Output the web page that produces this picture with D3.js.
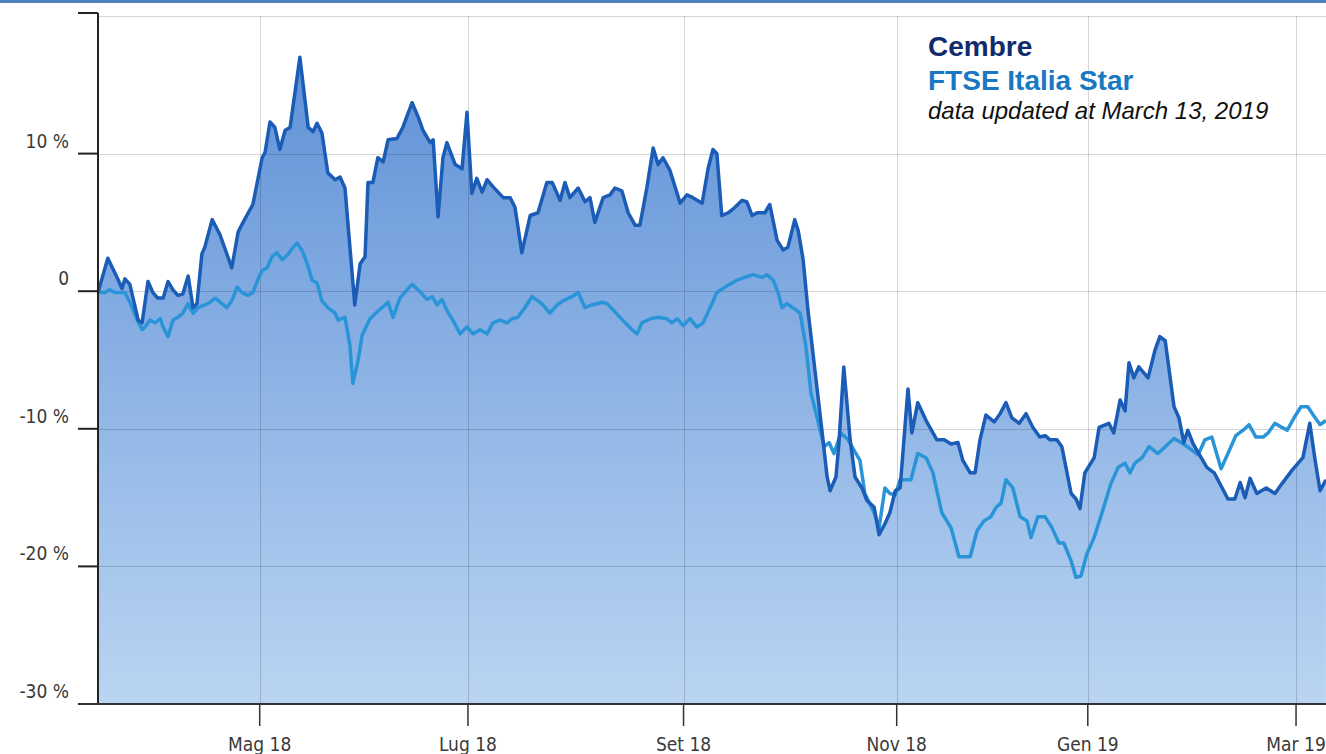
<!DOCTYPE html>
<html>
<head>
<meta charset="utf-8">
<script src="https://cdn.jsdelivr.net/npm/d3@7"></script>
<style>
  html, body { margin: 0; padding: 0; background: #fff; }
  svg { display: block; }
  .tick-label { font-family: "DejaVu Sans Condensed", "DejaVu Sans", sans-serif; font-stretch: condensed; font-size: 19px; fill: #3a3a3a; }
</style>
</head>
<body>
<svg id="chart" width="1326" height="754"></svg>
<script>
// ---- data (trading day since start, % change) ----
const cembre = [[0,-0.1],[2.0,2.4],[3.9,1.0],[4.9,0.2],[5.5,0.9],[6.5,0.5],[8.2,-2.1],[9.0,-2.3],[10.2,0.7],[11.2,-0.1],[12.2,-0.5],[13.3,-0.5],[14.3,0.7],[15.3,0.1],[16.3,-0.3],[17.3,-0.2],[18.4,1.1],[19.4,-1.2],[20.2,-0.9],[21.2,2.7],[21.8,3.2],[23.3,5.2],[24.9,4.1],[27.3,1.7],[28.6,4.3],[29.6,5.0],[31.6,6.3],[33.5,9.7],[34.1,10.1],[35.1,12.3],[36.1,11.9],[37.1,10.3],[38.2,11.7],[39.2,11.9],[41.2,17.0],[42.9,11.9],[43.9,11.6],[44.7,12.2],[45.7,11.5],[46.9,8.6],[48.4,8.1],[49.4,8.3],[50.4,7.5],[52.4,-1.0],[53.5,2.0],[54.5,2.5],[55.1,7.9],[56.1,7.9],[57.1,9.7],[58.2,9.4],[59.2,11.0],[61.0,11.1],[62.2,11.9],[64.1,13.7],[65.3,12.7],[66.3,11.7],[67.8,10.8],[68.4,11.0],[69.4,5.4],[70.4,9.7],[71.2,10.8],[72.9,9.2],[74.3,8.9],[75.3,13.0],[76.3,7.1],[77.3,8.2],[78.4,7.2],[79.4,8.1],[80.6,7.6],[82.7,6.8],[84.1,6.8],[85.1,6.1],[86.5,2.8],[88.2,5.5],[89.8,5.7],[91.6,7.9],[92.7,7.9],[94.3,6.6],[95.3,7.9],[96.3,6.8],[98.0,7.5],[99.4,6.5],[100.4,6.8],[101.4,5.0],[103.1,6.8],[104.5,7.0],[105.5,7.5],[106.9,7.3],[108.2,5.7],[109.6,4.8],[110.6,4.8],[112.0,7.5],[113.3,10.4],[114.3,9.2],[115.3,9.7],[116.7,8.8],[118.8,6.4],[120.2,7.0],[121.4,6.8],[123.3,6.4],[124.5,8.9],[125.5,10.3],[126.3,10.0],[127.3,5.5],[128.6,5.7],[130.0,6.1],[131.4,6.6],[132.4,6.5],[133.5,5.5],[134.5,5.7],[136.1,5.7],[137.1,6.3],[138.6,3.7],[139.8,3.0],[140.8,3.2],[142.2,5.2],[142.9,4.4],[143.9,2.3],[144.9,-1.4],[146.3,-5.7],[147.8,-10.3],[148.8,-13.5],[149.4,-14.5],[150.6,-13.5],[151.2,-11.1],[152.2,-5.5],[153.5,-10.8],[154.5,-13.5],[155.9,-14.3],[156.9,-15.2],[158.4,-15.7],[159.4,-17.7],[160.6,-16.9],[161.6,-16.1],[162.7,-14.5],[163.7,-14.3],[165.3,-7.1],[166.1,-10.3],[167.3,-8.1],[169.0,-9.4],[171.2,-10.8],[172.7,-10.8],[174.1,-11.1],[175.5,-11.0],[176.5,-12.3],[178.0,-13.2],[179.0,-13.2],[180.0,-10.8],[181.2,-9.0],[182.9,-9.5],[184.1,-8.9],[185.3,-8.1],[186.5,-9.2],[188.0,-9.6],[189.4,-8.9],[190.8,-9.9],[192.2,-10.6],[193.3,-10.5],[194.3,-10.8],[195.7,-10.8],[196.7,-11.3],[198.6,-14.7],[199.6,-15.1],[200.4,-15.8],[201.4,-13.2],[203.3,-12.1],[204.3,-9.9],[206.3,-9.6],[207.3,-10.3],[208.6,-7.9],[209.6,-8.7],[210.4,-5.2],[211.4,-6.3],[212.4,-5.5],[214.3,-6.3],[215.7,-4.3],[216.7,-3.3],[217.8,-3.6],[219.6,-8.4],[220.6,-9.2],[221.6,-11.0],[222.4,-10.1],[223.5,-11.1],[226.3,-12.8],[227.8,-13.2],[230.6,-15.1],[232.0,-15.1],[233.1,-13.9],[234.1,-15.0],[235.1,-13.6],[236.5,-14.7],[238.4,-14.3],[240.2,-14.7],[241.6,-14.0],[243.7,-13.0],[245.9,-12.1],[247.3,-9.6],[248.4,-12.3],[249.4,-14.5],[250.6,-13.7]];

const ftse = [[0,-0.1],[1.4,-0.1],[2.4,0.1],[3.5,-0.1],[4.5,-0.1],[5.5,-0.1],[6.5,-0.8],[8.0,-2.1],[9.0,-2.8],[9.6,-2.6],[10.6,-2.1],[11.6,-2.3],[12.7,-2.0],[13.3,-2.6],[14.3,-3.3],[15.3,-2.1],[16.3,-1.9],[17.3,-1.6],[18.4,-0.9],[19.4,-1.6],[20.4,-1.2],[21.8,-1.0],[22.9,-0.8],[23.9,-0.5],[24.9,-0.8],[26.3,-1.2],[27.3,-0.7],[28.4,0.3],[29.4,-0.1],[30.6,-0.3],[31.6,-0.1],[32.7,0.9],[33.5,1.5],[34.5,1.7],[35.5,2.5],[36.5,2.8],[37.6,2.3],[38.6,2.6],[39.6,3.1],[40.6,3.5],[41.6,3.0],[42.7,2.0],[43.7,0.8],[44.7,0.6],[45.7,-0.7],[46.9,-1.2],[48.4,-1.6],[49.0,-2.1],[50.4,-1.9],[51.4,-3.9],[52.0,-6.7],[53.1,-5.0],[53.9,-3.2],[55.5,-2.0],[57.6,-1.3],[59.2,-0.8],[60.2,-1.9],[61.6,-0.5],[64.1,0.5],[65.9,-0.1],[67.1,-0.6],[68.2,-0.4],[69.2,-1.0],[70.2,-0.6],[71.2,-1.4],[72.4,-2.1],[73.9,-3.1],[75.3,-2.6],[76.5,-3.1],[78.0,-2.8],[79.4,-3.1],[80.6,-2.3],[82.0,-2.1],[83.5,-2.3],[84.5,-2.0],[85.7,-1.9],[87.1,-1.2],[88.6,-0.4],[89.8,-0.7],[90.8,-1.0],[92.2,-1.6],[93.7,-1.0],[94.9,-0.7],[96.7,-0.4],[98.0,-0.1],[99.4,-1.2],[100.8,-1.0],[102.9,-0.8],[103.9,-0.9],[105.5,-1.5],[107.6,-2.3],[109.0,-2.8],[110.0,-3.1],[111.0,-2.3],[112.7,-2.0],[114.3,-1.9],[116.1,-2.0],[117.1,-2.3],[118.2,-2.0],[119.4,-2.5],[120.8,-2.0],[122.2,-2.6],[123.5,-2.3],[124.9,-1.2],[126.3,-0.1],[128.4,0.4],[130.4,0.8],[132.0,1.0],[133.7,1.2],[135.5,1.0],[136.5,1.2],[137.8,0.8],[138.8,-0.1],[139.6,-1.2],[140.6,-0.9],[141.8,-1.2],[143.3,-1.6],[144.5,-4.1],[145.5,-7.4],[146.9,-9.4],[148.2,-11.3],[149.2,-11.0],[150.2,-11.8],[151.6,-10.3],[153.1,-10.8],[154.5,-11.7],[155.5,-12.3],[156.5,-14.7],[158.4,-16.1],[159.4,-17.2],[160.6,-14.3],[161.6,-14.7],[162.7,-14.8],[163.7,-13.7],[165.9,-13.7],[167.3,-11.8],[169.0,-12.1],[170.4,-13.2],[172.2,-16.1],[174.1,-17.2],[175.7,-19.3],[178.0,-19.3],[179.4,-17.4],[180.8,-16.7],[182.2,-16.4],[183.3,-15.7],[184.3,-15.4],[185.3,-13.7],[186.7,-14.3],[188.2,-16.4],[189.6,-16.7],[190.4,-17.9],[191.8,-16.4],[193.3,-16.4],[194.7,-17.2],[196.1,-18.3],[197.1,-18.3],[198.6,-19.6],[199.6,-20.8],[200.6,-20.7],[201.8,-19.1],[203.3,-17.9],[204.9,-16.1],[206.7,-14.0],[208.2,-12.8],[209.6,-12.5],[210.6,-13.2],[211.6,-12.5],[213.1,-12.1],[214.5,-11.3],[216.3,-11.8],[217.8,-11.3],[219.6,-10.7],[221.0,-11.0],[222.7,-11.4],[224.5,-11.9],[225.9,-10.8],[227.3,-10.6],[229.2,-12.9],[230.6,-11.8],[232.2,-10.5],[233.7,-10.1],[234.9,-9.7],[236.3,-10.6],[237.8,-10.6],[238.8,-10.3],[240.2,-9.6],[241.6,-9.9],[242.7,-10.1],[244.1,-9.2],[245.5,-8.4],[246.9,-8.4],[248.0,-9.0],[249.4,-9.7],[250.6,-9.4]];

// month ticks (trading day index where the month starts)
const monthTicks = [33, 75.5, 119.5, 163, 202, 244.5];
const monthLabels = ["Mag 18", "Lug 18", "Set 18", "Nov 18", "Gen 19", "Mar 19"];
const pctTicks = [20, 10, 0, -10, -20, -30];
const pctLabels = ["", "10 %", "0", "-10 %", "-20 %", "-30 %"];

const legendNames = ["Cembre", "FTSE Italia Star"];
const legendNote = "data updated at March 13, 2019";

// ---- layout ----
const width = 1326;
const height = 754;
const plotLeft = 98;
const plotTop = 16;
const plotBottom = 704;

const x = d3.scaleLinear().domain([0, 250]).range([plotLeft, 1323]);
const y = d3.scaleLinear().domain([-30, 20]).range([plotBottom, plotTop]);

const svg = d3.select("#chart");

// gradient for the Cembre area
const defs = svg.append("defs");
const grad = defs.append("linearGradient")
  .attr("id", "fillGrad")
  .attr("gradientUnits", "userSpaceOnUse")
  .attr("x1", 0).attr("x2", 0)
  .attr("y1", plotTop).attr("y2", plotBottom);
grad.append("stop").attr("offset", "0%").attr("stop-color", "#5a8dd6");
grad.append("stop").attr("offset", "100%").attr("stop-color", "#bad5f2");

// top blue border
svg.append("rect")
  .attr("x", 0).attr("y", 0)
  .attr("width", width).attr("height", 3)
  .attr("fill", "#4f81bd");

// area under Cembre
const area = d3.area()
  .x(d => x(d[0]))
  .y0(y(-30))
  .y1(d => y(d[1]));

svg.append("path")
  .datum(cembre)
  .attr("d", area)
  .attr("fill", "url(#fillGrad)");

// gridlines (drawn over the fill, semi transparent)
const grid = svg.append("g")
  .attr("stroke", "#000")
  .attr("stroke-opacity", 0.16)
  .attr("stroke-width", 1);

grid.selectAll("line.h")
  .data(pctTicks)
  .join("line")
  .attr("class", "h")
  .attr("x1", plotLeft).attr("x2", width)
  .attr("y1", d => Math.round(y(d)) + 0.5)
  .attr("y2", d => Math.round(y(d)) + 0.5);

grid.selectAll("line.v")
  .data(monthTicks)
  .join("line")
  .attr("class", "v")
  .attr("y1", plotTop).attr("y2", plotBottom)
  .attr("x1", d => Math.round(x(d)) + 0.5)
  .attr("x2", d => Math.round(x(d)) + 0.5);

// lines
const line = d3.line()
  .x(d => x(d[0]))
  .y(d => y(d[1]));

svg.append("path")
  .datum(ftse)
  .attr("d", line)
  .attr("fill", "none")
  .attr("stroke", "#2a94d8")
  .attr("stroke-width", 3.5)
  .attr("stroke-linejoin", "round");

svg.append("path")
  .datum(cembre)
  .attr("d", line)
  .attr("fill", "none")
  .attr("stroke", "#1a5cb6")
  .attr("stroke-width", 3.5)
  .attr("stroke-linejoin", "round");

// y axis
const yAxis = svg.append("g");
yAxis.append("line")
  .attr("x1", plotLeft).attr("x2", plotLeft)
  .attr("y1", y(20) - 3).attr("y2", plotBottom + 1)
  .attr("stroke", "#222").attr("stroke-width", 2);

yAxis.selectAll("line.tick")
  .data(pctTicks)
  .join("line")
  .attr("class", "tick")
  .attr("x1", plotLeft - 20).attr("x2", plotLeft)
  .attr("y1", d => y(d) - (d === 20 ? 3 : 0))
  .attr("y2", d => y(d) - (d === 20 ? 3 : 0))
  .attr("stroke", "#222").attr("stroke-width", 2);

yAxis.selectAll("text")
  .data(pctTicks)
  .join("text")
  .attr("class", "tick-label")
  .attr("text-anchor", "end")
  .attr("x", 69)
  .attr("y", d => y(d) - 6)
  .text((d, i) => pctLabels[i]);

// x axis
const xAxis = svg.append("g");
xAxis.append("line")
  .attr("x1", plotLeft - 20).attr("x2", width)
  .attr("y1", plotBottom).attr("y2", plotBottom)
  .attr("stroke", "#333").attr("stroke-width", 2);

xAxis.selectAll("line.tick")
  .data(monthTicks)
  .join("line")
  .attr("class", "tick")
  .attr("x1", d => x(d)).attr("x2", d => x(d))
  .attr("y1", plotBottom).attr("y2", plotBottom + 22)
  .attr("stroke", "#333").attr("stroke-width", 1.5);

xAxis.selectAll("text")
  .data(monthTicks)
  .join("text")
  .attr("class", "tick-label")
  .attr("text-anchor", "middle")
  .attr("x", d => x(d))
  .attr("y", 751)
  .text((d, i) => monthLabels[i]);

// legend
const legend = svg.append("g")
  .attr("font-family", "'Liberation Sans', Arial, sans-serif");

legend.append("text")
  .attr("x", 928).attr("y", 56)
  .attr("font-size", 28).attr("font-weight", "bold")
  .attr("fill", "#0f2b6c")
  .text(legendNames[0]);

legend.append("text")
  .attr("x", 928).attr("y", 90)
  .attr("font-size", 28).attr("font-weight", "bold")
  .attr("fill", "#1a78c2")
  .text(legendNames[1]);

legend.append("text")
  .attr("x", 928).attr("y", 119)
  .attr("font-size", 24).attr("font-style", "italic")
  .attr("fill", "#111")
  .text(legendNote);
</script>
</body>
</html>
